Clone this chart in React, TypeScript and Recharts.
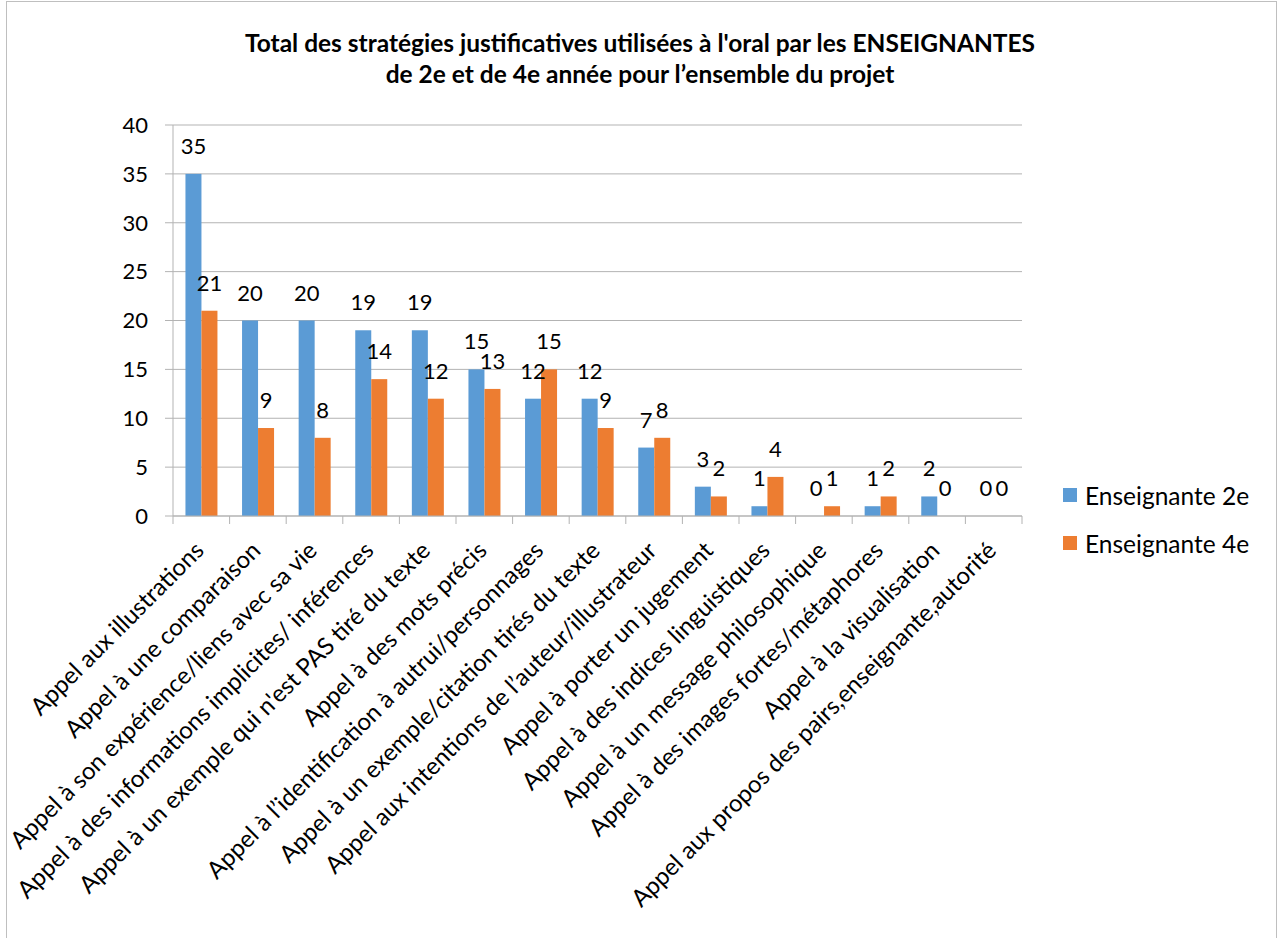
import React from "react";
import { BarChart, Bar, XAxis, YAxis, CartesianGrid, LabelList } from "recharts";

const categories = [
	"Appel aux illustrations",
	"Appel à une comparaison",
	"Appel à son expérience/liens avec sa vie",
	"Appel à des informations implicites/ inférences",
	"Appel à un exemple qui n'est PAS tiré du texte",
	"Appel à des mots précis",
	"Appel à l’identification à autrui/personnages",
	"Appel à un exemple/citation tirés du texte",
	"Appel aux intentions de l’auteur/illustrateur",
	"Appel à porter un jugement",
	"Appel à des indices linguistiques",
	"Appel à un message philosophique",
	"Appel à des images fortes/métaphores",
	"Appel à la visualisation",
	"Appel aux propos des pairs,enseignante,autorité",
];
const ens2e = [35, 20, 20, 19, 19, 15, 12, 12, 7, 3, 1, 0, 1, 2, 0];
const ens4e = [21, 9, 8, 14, 12, 13, 15, 9, 8, 2, 4, 1, 2, 0, 0];
const yTicks = [0, 5, 10, 15, 20, 25, 30, 35, 40];
const seriesNames = ["Enseignante 2e", "Enseignante 4e"];

const BLUE = "#5B9BD5";
const ORANGE = "#ED7D31";
const GRID = "#b3b3b3";
const FONT = "Lato, 'Open Sans', sans-serif";

const PLOT_LEFT = 173;
const PLOT_RIGHT = 1022;
const STEP = (PLOT_RIGHT - PLOT_LEFT) / categories.length;
const LABEL_GAP = 20;

const data = categories.map((name, i) => ({ name, e2: ens2e[i], e4: ens4e[i] }));

function XTick(props: any) {
	const { x, y, payload, index } = props;
	const left = x - STEP / 2;
	const right = x + STEP / 2;
	const ax = x + 4;
	const ay = y + 36;
	return (
		<g>
			<line x1={left} y1={y} x2={left} y2={y + 8} stroke={GRID} />
			{index === categories.length - 1 && <line x1={right} y1={y} x2={right} y2={y + 8} stroke={GRID} />}
			<text x={ax} y={ay} transform={`rotate(-45, ${ax}, ${ay})`} textAnchor="end" fontSize={24} fontFamily={FONT} fill="#000">
				{payload.value}
			</text>
		</g>
	);
}

function valueText(cx: number, top: number, value: any) {
	return (
		<text x={cx} y={top - LABEL_GAP} textAnchor="middle" fontSize={22} fontFamily={FONT} fill="#000">
			{value}
		</text>
	);
}

// nonzero values
function ValueLabel(props: any) {
	const { x, y, width, value } = props;
	if (!value) return null;
	return valueText(x + width / 2, y, value);
}

// bar + "0" label for empty bars (LabelList skips them)
function BarShape(props: any) {
	const { x, y, width, height, fill, value } = props;
	const v = Array.isArray(value) ? value[1] - value[0] : value;
	return (
		<g>
			{height > 0 && <rect x={x} y={y} width={width} height={height} fill={fill} />}
			{v === 0 && valueText(x + width / 2, y, 0)}
		</g>
	);
}

function LegendBox() {
	const colors = [BLUE, ORANGE];
	return (
		<div style={{ position: "absolute", left: 1063, top: 471, fontFamily: FONT, fontSize: 24.5, color: "#000" }}>
			{seriesNames.map((label, i) => (
				<div key={label} style={{ display: "flex", alignItems: "center", height: 48 }}>
					<span style={{ width: 14, height: 14, background: colors[i], marginRight: 8, display: "inline-block" }} />
					<span>{label}</span>
				</div>
			))}
		</div>
	);
}

export default function App() {
	return (
		<div style={{ position: "fixed", left: 0, top: 0, width: 1280, height: 938, background: "#fff", overflow: "hidden" }}>
			<div style={{ position: "absolute", left: 6, top: 1, width: 1271, height: 1000, border: "1px solid #bfbfbf", boxSizing: "border-box" }} />
			<div
				style={{
					position: "absolute",
					left: 0,
					top: 27,
					width: 1280,
					textAlign: "center",
					fontFamily: FONT,
					fontWeight: 700,
					fontSize: 24.5,
					lineHeight: "31px",
					color: "#000",
				}}
			>
				Total des stratégies justificatives utilisées à l'oral par les ENSEIGNANTES
				<br />
				de 2e et de 4e année pour l’ensemble du projet
			</div>
			<div style={{ position: "absolute", left: 0, top: 0 }}>
				<BarChart
					width={1280}
					height={938}
					data={data}
					margin={{ top: 125, right: 1280 - PLOT_RIGHT, left: 0, bottom: 0 }}
					barCategoryGap="22%"
					barGap={0}
				>
					<CartesianGrid horizontal vertical={false} stroke={GRID} />
					<YAxis
						width={PLOT_LEFT}
						domain={[0, 40]}
						ticks={yTicks}
						interval={0}
						stroke={GRID}
						tickSize={8}
						tickMargin={17}
						tick={{ fill: "#000", fontSize: 22, fontFamily: FONT }}
					/>
					<XAxis
						dataKey="name"
						height={422}
						interval={0}
						stroke={GRID}
						tickLine={false}
						tickSize={0}
						tickMargin={0}
						tick={<XTick />}
					/>
					<Bar dataKey="e2" name={seriesNames[0]} fill={BLUE} shape={<BarShape />} isAnimationActive={false}>
						<LabelList dataKey="e2" content={<ValueLabel />} />
					</Bar>
					<Bar dataKey="e4" name={seriesNames[1]} fill={ORANGE} shape={<BarShape />} isAnimationActive={false}>
						<LabelList dataKey="e4" content={<ValueLabel />} />
					</Bar>
				</BarChart>
			</div>
			<LegendBox />
		</div>
	);
}
